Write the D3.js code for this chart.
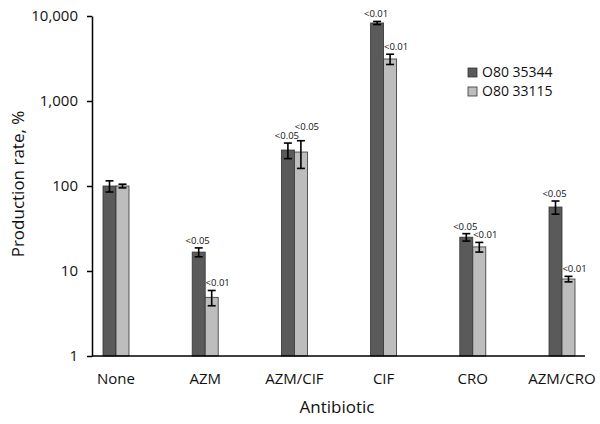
<!DOCTYPE html>
<html><head><meta charset="utf-8">
<script src="https://cdn.jsdelivr.net/npm/d3@7"></script>
<style>body{margin:0;background:#fff}svg{display:block}text{font-family:"Open Sans",sans-serif}</style>
</head><body><svg id="c" width="600" height="424"></svg>
<script>
const categories = ["None","AZM","AZM/CIF","CIF","CRO","AZM/CRO"];
const seriesNames = ["O80 35344","O80 33115"];
const values35344 = [100, 16.7, 265, 8280, 25, 56.6];
const errors35344 = [15, 2, 55, 350, 2.5, 10];
const values33115 = [100, 4.9, 251, 3120, 19.2, 8.05];
const errors33115 = [5, 1, 90, 430, 2.5, 0.6];
const pLabels35344 = ["", "<0.05", "<0.05", "<0.01", "<0.05", "<0.05"];
const pLabels33115 = ["", "<0.01", "<0.05", "<0.01", "<0.01", "<0.01"];
const yTicks = [1, 10, 100, 1000, 10000];

const colors = ["#5a5a5a", "#bdbdbd"];
const svg = d3.select("#c");
const y = d3.scaleLog().domain([1, 10000]).range([356, 16]);
const x = d3.scalePoint().domain(categories).range([116, 562]);
const bw = 13;

// axes
const yAxis = d3.axisLeft(y).tickValues(yTicks).tickFormat(d3.format(",")).tickSize(5).tickSizeOuter(0);
const gy = svg.append("g").attr("transform","translate(92,0)").call(yAxis);
gy.select(".domain").attr("stroke","#000").attr("stroke-width",1.5);
gy.selectAll(".tick line").attr("stroke","#000").attr("stroke-width",1.5);
gy.selectAll(".tick text").attr("x",-14).attr("font-size",15).attr("fill","#111").attr("font-family","Open Sans");

const series = [
  {vals: values35344, errs: errors35344, labels: pLabels35344, off: -bw, lblDx: -1},
  {vals: values33115, errs: errors33115, labels: pLabels33115, off: 0, lblDx: 6}
];

const labelY = {};
series.forEach((s, si) => {
  const g = svg.append("g");
  categories.forEach((c, i) => {
    const x0 = x(c) + s.off;
    const v = s.vals[i], e = s.errs[i];
    g.append("rect").attr("x", x0).attr("y", y(v)).attr("width", bw).attr("height", y(1) - y(v))
      .attr("fill", colors[si]).attr("stroke", "#333").attr("stroke-width", 0.8);
    const cx = x0 + bw/2;
    const yt = y(v + e), yb = y(v - e);
    g.append("line").attr("x1",cx).attr("x2",cx).attr("y1",yt).attr("y2",yb).attr("stroke","#000").attr("stroke-width",1.6);
    [yt, yb].forEach(yy => g.append("line").attr("x1",cx-4).attr("x2",cx+4).attr("y1",yy).attr("y2",yy).attr("stroke","#000").attr("stroke-width",1.6));
    if (s.labels[i]) {
      let ly = yt - 4;
      if (si === 1 && labelY[c] !== undefined && Math.abs(ly - labelY[c]) < 6) ly = labelY[c] - 9;
      if (si === 0) labelY[c] = ly;
      g.append("text").attr("x", cx + s.lblDx).attr("y", ly).attr("text-anchor","middle")
        .attr("font-size", 9.5).attr("fill","#111").text(s.labels[i]);
    }
  });
});

// x axis line
svg.append("line").attr("x1",92).attr("x2",585).attr("y1",356).attr("y2",356).attr("stroke","#000").attr("stroke-width",1.5);
svg.append("g").selectAll("text").data(categories).join("text")
  .attr("x", d => x(d)).attr("y", 384).attr("text-anchor","middle").attr("font-size",15).attr("fill","#111").text(d => d);

// titles
svg.append("text").attr("x",337).attr("y",413).attr("text-anchor","middle").attr("font-size",17).attr("fill","#111").text("Antibiotic");
svg.append("text").attr("transform","translate(24,184) rotate(-90)").attr("text-anchor","middle").attr("font-size",17).attr("fill","#111").text("Production rate, %");

// legend
const lg = svg.append("g");
seriesNames.forEach((n, i) => {
  lg.append("rect").attr("x",468).attr("y",68 + i*19).attr("width",9).attr("height",9)
    .attr("fill",colors[i]).attr("stroke","#333").attr("stroke-width",0.8);
  lg.append("text").attr("x",482).attr("y",77 + i*19).attr("font-size",14).attr("fill","#111").text(n);
});
</script></body></html>
